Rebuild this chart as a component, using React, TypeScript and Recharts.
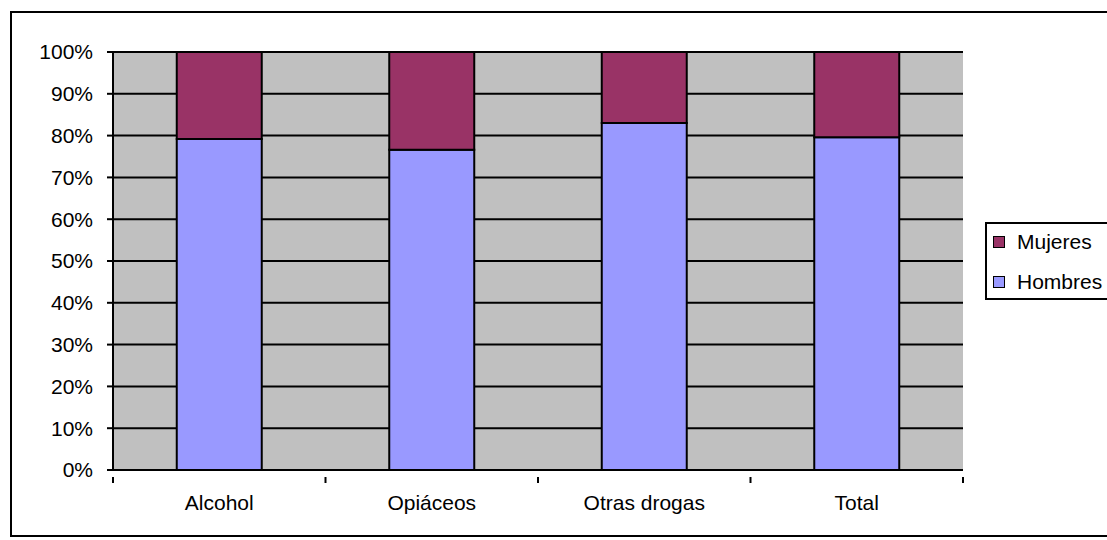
import React from 'react';
import {
  BarChart,
  Bar,
  XAxis,
  YAxis,
  CartesianGrid,
} from 'recharts';

const categories = ['Alcohol', 'Opiáceos', 'Otras drogas', 'Total'];
const hombres = [79.2, 76.6, 83.0, 79.6];
const mujeres = [20.8, 23.4, 17.0, 20.4];
const yTicks = [0, 10, 20, 30, 40, 50, 60, 70, 80, 90, 100];
const legendOrder = ['Mujeres', 'Hombres'];

const COLORS: Record<string, string> = {
  Hombres: '#9999FF',
  Mujeres: '#993366',
};

const data = categories.map((name, i) => ({
  name,
  Hombres: hombres[i],
  Mujeres: mujeres[i],
}));

const W = 1107;
const H = 540;
const MARGIN = { top: 52, right: 144, bottom: 40, left: 10 };
const Y_WIDTH = 103;
const PLOT_W = W - MARGIN.left - Y_WIDTH - MARGIN.right;
const BAND = PLOT_W / categories.length;
const FONT = '"Liberation Sans", Arial, sans-serif';

// category label in the middle, tick marks on the category boundaries
function XTick({ x, y, payload, index }: any) {
  const left = x - BAND / 2;
  return (
    <g>
      <line x1={left} y1={y - 1} x2={left} y2={y + 5} stroke="#000" strokeWidth={2} />
      {index === categories.length - 1 && (
        <line x1={left + BAND} y1={y - 1} x2={left + BAND} y2={y + 5} stroke="#000" strokeWidth={2} />
      )}
      <text x={x} y={y + 32} textAnchor="middle" fontSize={21} fill="#000" fontFamily={FONT}>
        {payload.value}
      </text>
    </g>
  );
}

function LegendBox() {
  return (
    <div
      style={{
        position: 'absolute',
        left: 985,
        top: 222,
        width: 140,
        height: 78,
        border: '2px solid #000',
        background: '#fff',
        boxSizing: 'border-box',
        fontFamily: FONT,
        fontSize: 21,
      }}
    >
      <div style={{ marginTop: -2 }}>
        {legendOrder.map((k) => (
          <div key={k} style={{ display: 'flex', alignItems: 'center', height: 40, paddingLeft: 6 }}>
            <span
              style={{
                width: 10,
                height: 10,
                background: COLORS[k],
                border: '1px solid #000',
                marginRight: 12,
              }}
            />
            <span>{k}</span>
          </div>
        ))}
      </div>
    </div>
  );
}

export default function App() {
  return (
    <div style={{ position: 'absolute', left: 0, top: 0, width: W, height: H, background: '#fff', overflow: 'hidden' }}>
      <div
        style={{
          position: 'absolute',
          left: 10,
          top: 11,
          width: W,
          height: 526,
          border: '2px solid #000',
          boxSizing: 'border-box',
        }}
      />
      <BarChart
        width={W}
        height={H}
        data={data}
        margin={MARGIN}
        barCategoryGap="30%"
        style={{ position: 'absolute', left: 0, top: 0 }}
      >
        <CartesianGrid vertical={false} stroke="#000" strokeWidth={2} fill="#C0C0C0" />
        <XAxis
          dataKey="name"
          tickLine={false}
          axisLine={{ stroke: '#000', strokeWidth: 2 }}
          tick={<XTick />}
          interval={0}
          height={30}
        />
        <YAxis
          domain={[0, 100]}
          ticks={yTicks}
          width={Y_WIDTH}
          tickFormatter={(v: number) => `${v}%`}
          tick={{ fill: '#000', fontSize: 21, fontFamily: FONT }}
          tickLine={{ stroke: '#000', strokeWidth: 2 }}
          tickSize={6}
          tickMargin={14}
          axisLine={{ stroke: '#000', strokeWidth: 2 }}
          interval={0}
        />
        <Bar dataKey="Hombres" stackId="a" fill={COLORS.Hombres} stroke="#000" strokeWidth={2} isAnimationActive={false} />
        <Bar dataKey="Mujeres" stackId="a" fill={COLORS.Mujeres} stroke="#000" strokeWidth={2} isAnimationActive={false} />
      </BarChart>
      <LegendBox />
    </div>
  );
}
